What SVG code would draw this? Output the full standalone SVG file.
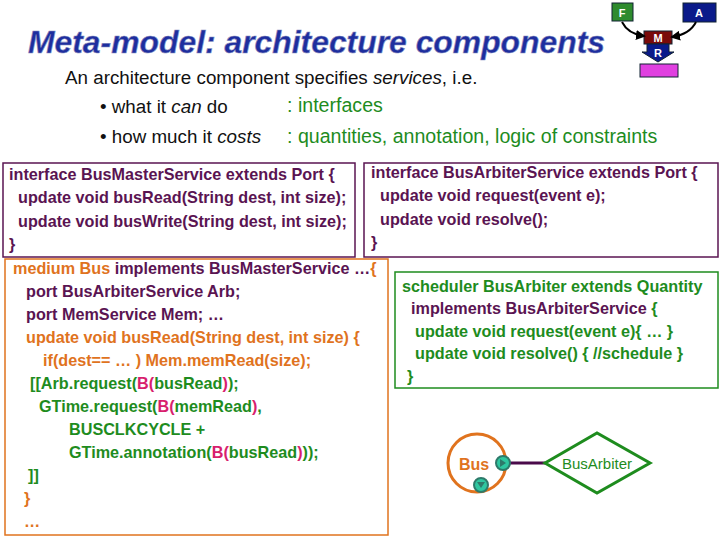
<svg xmlns="http://www.w3.org/2000/svg" width="720" height="540" viewBox="0 0 720 540">
<style>
text{font-family:"Liberation Sans",Arial,sans-serif}
.c{font-size:16.2px;font-weight:bold}
.p{fill:#5A1452}.o{fill:#E0731E}.g{fill:#1E8C1E}.k{fill:#D81E6E}
.h{font-size:18.8px;fill:#111}
.hg{font-size:19.6px;fill:#1E8C1E}
</style>
<defs>
<marker id="ah" viewBox="0 0 10 10" refX="8" refY="5" markerWidth="5" markerHeight="5" orient="auto"><path d="M0,0L10,5L0,10z" fill="#000"/></marker>
</defs>
<rect width="720" height="540" fill="#fff"/>
<text x="28" y="53" font-size="31" font-weight="bold" font-style="italic" fill="#1E2E9E" stroke="#8890c0" stroke-width="0.6" textLength="577" lengthAdjust="spacingAndGlyphs">Meta-model: architecture components</text>
<g id="logo">
<rect x="612" y="3" width="21" height="18" fill="#2E8B2E" stroke="#123"/>
<text x="622" y="17" font-size="11" font-weight="bold" fill="#fff" text-anchor="middle">F</text>
<rect x="683" y="3" width="33" height="19" fill="#0A1A8A" stroke="#123"/>
<text x="699" y="17" font-size="11" font-weight="bold" fill="#fff" text-anchor="middle">A</text>
<rect x="644" y="31" width="28" height="13" fill="#7A0A0A" stroke="#123"/>
<text x="658" y="42" font-size="11" font-weight="bold" fill="#fff" text-anchor="middle">M</text>
<path d="M647,44h22v8h5l-16,10l-16,-10h5z" fill="#0A1A8A" stroke="#123"/>
<text x="658" y="57" font-size="11" font-weight="bold" fill="#fff" text-anchor="middle">R</text>
<rect x="640" y="64" width="38" height="13" fill="#E040E0" stroke="#123"/>
<path d="M622,22Q628,34 644,36" fill="none" stroke="#000" stroke-width="2" marker-end="url(#ah)"/>
<path d="M696,22Q690,34 672,37" fill="none" stroke="#000" stroke-width="2" marker-end="url(#ah)"/>
</g>
<text class="h" x="65" y="84">An architecture component specifies <tspan font-style="italic">services</tspan>, i.e.</text>
<text class="h" x="100" y="113">• what it <tspan font-style="italic">can</tspan> do</text>
<text class="hg" x="287" y="112">: interfaces</text>
<text class="h" x="100" y="143">• how much it <tspan font-style="italic">costs</tspan></text>
<text class="hg" x="287" y="143">: quantities, annotation, logic of constraints</text>
<g id="masterservice">
<rect x="3" y="163" width="352" height="94" fill="none" stroke="#5A1452" stroke-width="1.5"/>
<text class="c p" x="9" y="180">interface BusMasterService extends Port {</text>
<text class="c p" x="18" y="203">update void busRead(String dest, int size);</text>
<text class="c p" x="18" y="227">update void busWrite(String dest, int size);</text>
<text class="c p" x="9" y="250">}</text>
</g>
<g id="arbiterservice">
<rect x="364" y="163" width="354" height="94" fill="none" stroke="#5A1452" stroke-width="1.5"/>
<text class="c p" x="371" y="178">interface BusArbiterService extends Port {</text>
<text class="c p" x="380" y="201">update void request(event e);</text>
<text class="c p" x="380" y="225">update void resolve();</text>
<text class="c p" x="371" y="248">}</text>
</g>
<g id="medium">
<rect x="5" y="259" width="383" height="276" fill="none" stroke="#E0731E" stroke-width="1.5"/>
<text class="c o" x="13" y="274">medium Bus <tspan class="p">implements BusMasterService …</tspan>{</text>
<text class="c p" x="26" y="297">port BusArbiterService Arb;</text>
<text class="c p" x="26" y="320">port MemService Mem; …</text>
<text class="c o" x="26" y="343">update void busRead(String dest, int size) {</text>
<text class="c o" x="43" y="366">if(dest== … ) Mem.memRead(size);</text>
<text class="c g" x="30" y="389">[[Arb.request(<tspan class="k">B(</tspan>busRead<tspan class="k">)</tspan>);</text>
<text class="c g" x="39" y="412">GTime.request(<tspan class="k">B(</tspan>memRead<tspan class="k">)</tspan>,</text>
<text class="c g" x="69" y="435">BUSCLKCYCLE +</text>
<text class="c g" x="69" y="458">GTime.annotation(<tspan class="k">B(</tspan>busRead<tspan class="k">)</tspan>));</text>
<text class="c g" x="28" y="481">]]</text>
<text class="c o" x="24" y="504">}</text>
<text class="c o" x="24" y="527">…</text>
</g>
<g id="scheduler">
<rect x="395" y="272" width="323" height="116" fill="none" stroke="#1E8C1E" stroke-width="1.5"/>
<text class="c g" x="402" y="292">scheduler BusArbiter extends Quantity</text>
<text class="c p" x="411" y="314">implements BusArbiterService <tspan class="g">{</tspan></text>
<text class="c g" x="415" y="337">update void request(event e){ … }</text>
<text class="c g" x="415" y="359">update void resolve() { //schedule }</text>
<text class="c g" x="407" y="382">}</text>
</g>
<g id="connectors">
<line x1="510" y1="463" x2="545" y2="463" stroke="#4A0A4A" stroke-width="3"/>
</g>
<g id="bus">
<circle cx="477" cy="463" r="29" fill="#fff" stroke="#E0731E" stroke-width="3"/>
<text x="459" y="470" font-size="16" font-weight="bold" fill="#E0731E">Bus</text>
<circle cx="503" cy="463" r="7" fill="#2EC7A0" stroke="#2E7A6A" stroke-width="2"/>
<path d="M500,459l6,4l-6,4z" fill="#2E7A6A"/>
<circle cx="481" cy="485" r="7" fill="#2EC7A0" stroke="#2E7A6A" stroke-width="2"/>
<path d="M477,482h8l-4,6z" fill="#2E7A6A"/>
</g>
<g id="busarbiter">
<path d="M545,463L597,433L650,463L597,493z" fill="#fff" stroke="#1E8C1E" stroke-width="3"/>
<text x="597" y="469" font-size="15" fill="#1E8C1E" text-anchor="middle">BusArbiter</text>
</g>
</svg>
